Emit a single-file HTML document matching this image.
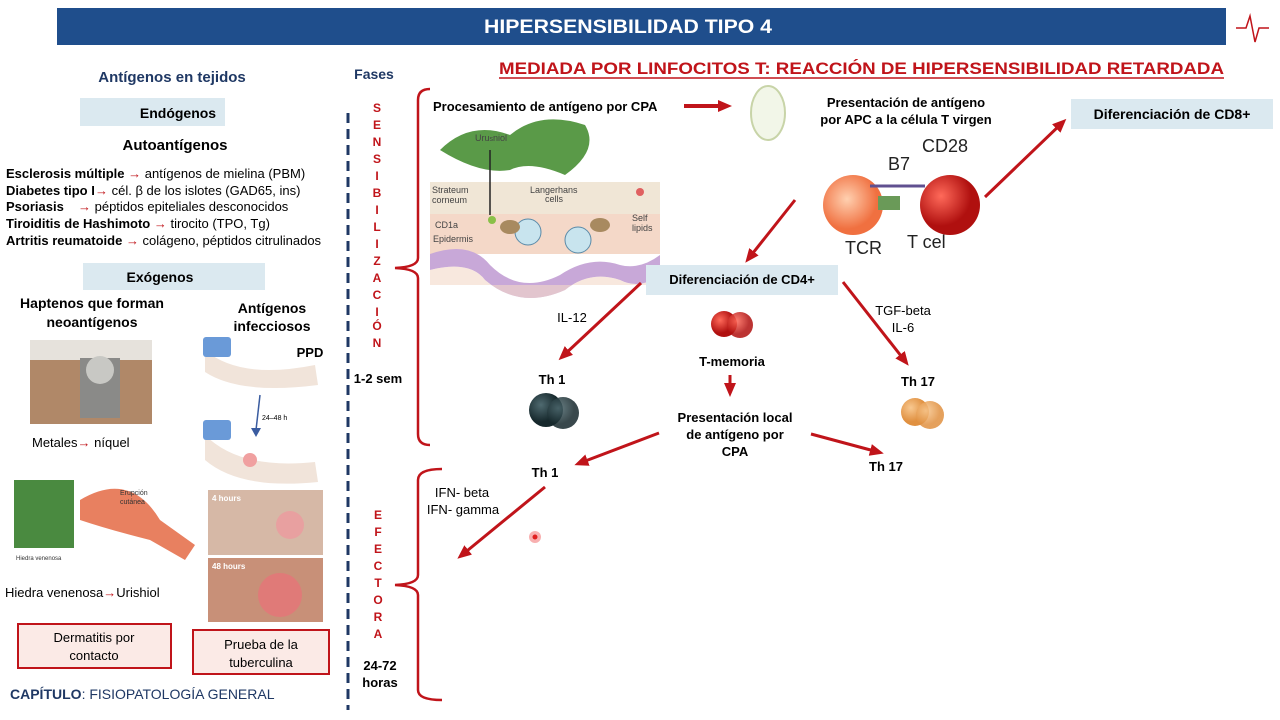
<!DOCTYPE html>
<html><head><meta charset="utf-8"><style>
body{margin:0;width:1280px;height:720px;background:#fff;overflow:hidden;font-family:"Liberation Sans",sans-serif}
svg{position:absolute;left:0;top:0}
</style></head><body>
<svg width="1280" height="720" viewBox="0 0 1280 720" font-family="Liberation Sans, sans-serif">
<defs>
<marker id="a" markerWidth="16" markerHeight="16" refX="8" refY="6" orient="auto" markerUnits="userSpaceOnUse"><path d="M0,0 L14,6 L0,12 Z" fill="#c0141a"/></marker>
<radialGradient id="rc" cx="35%" cy="35%"><stop offset="0" stop-color="#ff6a5a"/><stop offset="1" stop-color="#b0100f"/></radialGradient>
<radialGradient id="dc" cx="35%" cy="35%"><stop offset="0" stop-color="#4f6a70"/><stop offset="1" stop-color="#16282c"/></radialGradient>
<radialGradient id="oc" cx="35%" cy="35%"><stop offset="0" stop-color="#f8c890"/><stop offset="1" stop-color="#e09040"/></radialGradient>
<radialGradient id="pc" cx="40%" cy="40%"><stop offset="0" stop-color="#ffd0b0"/><stop offset="1" stop-color="#f07040"/></radialGradient>
</defs>
<rect x="57" y="8" width="1169" height="37" fill="#1f4e8c"/>
<text x="628" y="33" font-size="19" font-weight="bold" fill="#fff" text-anchor="middle" textLength="288" lengthAdjust="spacingAndGlyphs">HIPERSENSIBILIDAD TIPO 4</text>
<path d="M1236,28 h10 l4,-12 l5,26 l4,-14 h10" stroke="#c0141a" fill="none" stroke-width="1.5"/>
<text x="172" y="82" font-size="15" font-weight="bold" fill="#1f3864" text-anchor="middle">Antígenos en tejidos</text>
<rect x="80" y="98" width="145" height="28" fill="#dbe9f0"/>
<text x="178" y="118" font-size="14" font-weight="bold" text-anchor="middle">Endógenos</text>
<text x="175" y="150" font-size="15" font-weight="bold" text-anchor="middle">Autoantígenos</text>
<g font-size="13">
<text x="6" y="178"><tspan font-weight="bold">Esclerosis múltiple</tspan> <tspan fill="#c0141a" font-weight="bold">→</tspan> antígenos de mielina (PBM)</text>
<text x="6" y="195"><tspan font-weight="bold">Diabetes tipo I</tspan><tspan fill="#c0141a" font-weight="bold" x="95">→</tspan> cél. β de los islotes  (GAD65, ins)</text>
<text x="6" y="211"><tspan font-weight="bold">Psoriasis</tspan><tspan fill="#c0141a" font-weight="bold" x="78">→</tspan> péptidos epiteliales desconocidos</text>
<text x="6" y="228"><tspan font-weight="bold">Tiroiditis de Hashimoto</tspan> <tspan fill="#c0141a" font-weight="bold">→</tspan> tirocito (TPO, Tg)</text>
<text x="6" y="245"><tspan font-weight="bold">Artritis reumatoide</tspan> <tspan fill="#c0141a" font-weight="bold">→</tspan> colágeno, péptidos citrulinados</text>
</g>
<rect x="83" y="263" width="182" height="27" fill="#dbe9f0"/>
<text x="160" y="282" font-size="14" font-weight="bold" text-anchor="middle">Exógenos</text>
<text x="92" y="308" font-size="14" font-weight="bold" text-anchor="middle">Haptenos que forman</text>
<text x="92" y="327" font-size="14" font-weight="bold" text-anchor="middle">neoantígenos</text>
<rect x="30" y="340" width="122" height="84" fill="#b08868"/>
<rect x="30" y="340" width="122" height="20" fill="#e6e2dc"/>
<rect x="80" y="358" width="40" height="60" fill="#8a8a88"/>
<circle cx="100" cy="370" r="14" fill="#c8c8c4"/>
<text x="32" y="447" font-size="13">Metales<tspan fill="#c0141a" font-weight="bold">→</tspan> níquel</text>
<rect x="14" y="480" width="60" height="68" fill="#4a8a40"/>
<path d="M80,500 Q130,470 160,520 L195,545 L185,560 L150,540 Q110,530 80,520Z" fill="#e88060"/>
<text x="120" y="495" font-size="7" fill="#333">Erupción</text>
<text x="120" y="504" font-size="7" fill="#333">cutánea</text>
<text x="16" y="560" font-size="6" fill="#333">Hiedra venenosa</text>
<text x="5" y="597" font-size="13">Hiedra venenosa<tspan fill="#c0141a" font-weight="bold">→</tspan>Urishiol</text>
<rect x="18" y="624" width="153" height="44" fill="#fbeae6" stroke="#c0141a" stroke-width="2"/>
<text x="94" y="642" font-size="13" text-anchor="middle">Dermatitis por</text>
<text x="94" y="660" font-size="13" text-anchor="middle">contacto</text>
<text x="272" y="313" font-size="14" font-weight="bold" text-anchor="middle">Antígenos</text>
<text x="272" y="331" font-size="14" font-weight="bold" text-anchor="middle">infecciosos</text>
<text x="310" y="357" font-size="13" font-weight="bold" text-anchor="middle">PPD</text>
<path d="M205,350 Q240,380 315,365 L318,385 Q240,395 205,372Z" fill="#f1e4da"/>
<rect x="203" y="337" width="28" height="20" fill="#6a9ad8" rx="3"/>
<path d="M205,435 Q240,470 315,462 L318,482 Q240,490 205,460Z" fill="#f1e4da"/>
<rect x="203" y="420" width="28" height="20" fill="#6a9ad8" rx="3"/>
<circle cx="250" cy="460" r="7" fill="#f0a0a0"/>
<line x1="260" y1="395" x2="256" y2="430" stroke="#3a5ca0" stroke-width="1.5"/>
<path d="M251,428 L256,437 L261,428Z" fill="#3a5ca0"/>
<text x="262" y="420" font-size="7">24–48 h</text>
<rect x="208" y="490" width="115" height="65" fill="#d6b8a6"/>
<circle cx="290" cy="525" r="14" fill="#e8a0a0"/>
<text x="212" y="501" font-size="8" fill="#fff" font-weight="bold">4 hours</text>
<rect x="208" y="558" width="115" height="64" fill="#c89078"/>
<circle cx="280" cy="595" r="22" fill="#e07a78"/>
<text x="212" y="569" font-size="8" fill="#fff" font-weight="bold">48 hours</text>
<rect x="193" y="630" width="136" height="44" fill="#fbeae6" stroke="#c0141a" stroke-width="2"/>
<text x="261" y="649" font-size="13" text-anchor="middle">Prueba de la</text>
<text x="261" y="667" font-size="13" text-anchor="middle">tuberculina</text>
<text x="10" y="699" font-size="14" fill="#1f3864"><tspan font-weight="bold">CAPÍTULO</tspan>: FISIOPATOLOGÍA GENERAL</text>
<line x1="348" y1="113" x2="348" y2="710" stroke="#1f3864" stroke-width="3" stroke-dasharray="10,6"/>
<text x="374" y="79" font-size="14" font-weight="bold" fill="#1f3864" text-anchor="middle">Fases</text>
<g font-size="12" font-weight="bold" fill="#c0141a" text-anchor="middle">
<text x="377" y="112">S</text><text x="377" y="129">E</text><text x="377" y="146">N</text><text x="377" y="163">S</text><text x="377" y="180">I</text><text x="377" y="197">B</text><text x="377" y="214">I</text><text x="377" y="231">L</text><text x="377" y="248">I</text><text x="377" y="265">Z</text><text x="377" y="282">A</text><text x="377" y="299">C</text><text x="377" y="316">I</text><text x="377" y="330">Ó</text><text x="377" y="347">N</text>
<text x="378" y="519">E</text><text x="378" y="536">F</text><text x="378" y="553">E</text><text x="378" y="570">C</text><text x="378" y="587">T</text><text x="378" y="604">O</text><text x="378" y="621">R</text><text x="378" y="638">A</text>
</g>
<text x="378" y="383" font-size="13" font-weight="bold" text-anchor="middle">1-2 sem</text>
<text x="380" y="670" font-size="13" font-weight="bold" text-anchor="middle">24-72</text>
<text x="380" y="687" font-size="13" font-weight="bold" text-anchor="middle">horas</text>
<g stroke="#c0141a" stroke-width="2.5" fill="none">
<path d="M430,89 Q418,89 418,100 L418,258 Q418,267 395,268 Q418,269 418,278 L418,434 Q418,445 430,445"/>
<path d="M442,469 Q418,469 418,480 L418,575 Q418,584 395,585 Q418,586 418,595 L418,690 Q418,700 442,700"/>
</g>
<text x="499" y="74" font-size="17" font-weight="bold" fill="#c0141a" textLength="725" lengthAdjust="spacingAndGlyphs">MEDIADA POR LINFOCITOS T: REACCIÓN DE HIPERSENSIBILIDAD RETARDADA</text>
<line x1="499" y1="78" x2="1224" y2="78" stroke="#c0141a" stroke-width="1.5"/>
<text x="433" y="111" font-size="13" font-weight="bold">Procesamiento de antígeno por CPA</text>
<line x1="684" y1="106" x2="726" y2="106" stroke="#c0141a" stroke-width="4" marker-end="url(#a)"/>
<ellipse cx="768" cy="113" rx="17" ry="27" fill="#f2f6e8" stroke="#c8d4a8" stroke-width="2"/>
<text x="906" y="107" font-size="13" font-weight="bold" text-anchor="middle">Presentación de antígeno</text>
<text x="906" y="124" font-size="13" font-weight="bold" text-anchor="middle">por APC a la célula T virgen</text>
<rect x="1071" y="99" width="202" height="30" fill="#dbe9f0"/>
<text x="1172" y="119" font-size="14" font-weight="bold" text-anchor="middle">Diferenciación de CD8+</text>
<path d="M440,150 Q470,120 510,135 Q540,110 585,125 Q600,150 565,175 Q530,160 510,170 Q480,175 440,150Z" fill="#5a9a48"/>
<text x="475" y="141" font-size="9" fill="#444">Uru<tspan font-size="7">s</tspan>niol</text>
<rect x="430" y="182" width="230" height="32" fill="#f0e6d6"/>
<rect x="430" y="214" width="230" height="40" fill="#f4d8c8"/>
<path d="M430,254 Q470,240 490,265 Q520,295 560,275 Q590,255 620,265 Q640,270 660,255 L660,275 Q640,290 620,280 Q590,270 565,290 Q520,310 485,280 Q470,260 430,270Z" fill="#c8a8d8"/>
<path d="M430,270 Q470,260 485,280 Q520,310 565,290 Q590,270 620,280 Q640,290 660,275 L660,285 L430,285Z" fill="#f4d8c8" opacity="0.6"/>
<line x1="490" y1="150" x2="490" y2="215" stroke="#222" stroke-width="1.5"/>
<circle cx="492" cy="220" r="4" fill="#8ac048"/>
<circle cx="528" cy="232" r="13" fill="#c8e4ee" stroke="#5a8aa8"/>
<circle cx="578" cy="240" r="13" fill="#c8e4ee" stroke="#5a8aa8"/>
<ellipse cx="510" cy="227" rx="10" ry="7" fill="#a88a60"/>
<ellipse cx="600" cy="225" rx="10" ry="7" fill="#a88a60"/>
<circle cx="640" cy="192" r="4" fill="#e06060"/>
<g font-size="9" fill="#444">
<text x="432" y="193">Strateum</text><text x="432" y="203">corneum</text>
<text x="530" y="193">Langerhans</text><text x="545" y="202">cells</text>
<text x="435" y="228">CD1a</text><text x="433" y="242">Epidermis</text>
<text x="632" y="221">Self</text><text x="632" y="231">lipids</text>
</g>
<circle cx="853" cy="205" r="30" fill="url(#pc)"/>
<circle cx="950" cy="205" r="30" fill="url(#rc)"/>
<rect x="878" y="196" width="22" height="14" fill="#6a9a58"/>
<line x1="870" y1="186" x2="925" y2="186" stroke="#605090" stroke-width="3"/>
<text x="888" y="170" font-size="18" fill="#222">B7</text>
<text x="922" y="152" font-size="18" fill="#222">CD28</text>
<text x="845" y="254" font-size="18" fill="#222">TCR</text>
<text x="907" y="248" font-size="18" fill="#222">T cel</text>
<g stroke="#c0141a" stroke-width="3" fill="none">
<line x1="985" y1="197" x2="1062" y2="123" marker-end="url(#a)"/>
<line x1="795" y1="200" x2="749" y2="258" marker-end="url(#a)"/>
<line x1="641" y1="283" x2="563" y2="356" marker-end="url(#a)"/>
<line x1="843" y1="282" x2="905" y2="361" marker-end="url(#a)"/>
<line x1="730" y1="375" x2="730" y2="391" marker-end="url(#a)"/>
<line x1="659" y1="433" x2="580" y2="463" marker-end="url(#a)"/>
<line x1="811" y1="434" x2="878" y2="452" marker-end="url(#a)"/>
<line x1="545" y1="487" x2="462" y2="555" marker-end="url(#a)"/>
</g>
<rect x="646" y="265" width="192" height="30" fill="#dbe9f0"/>
<text x="742" y="284" font-size="13" font-weight="bold" text-anchor="middle">Diferenciación de CD4+</text>
<text x="572" y="322" font-size="13" text-anchor="middle">IL-12</text>
<text x="903" y="315" font-size="13" text-anchor="middle">TGF-beta</text>
<text x="903" y="332" font-size="13" text-anchor="middle">IL-6</text>
<circle cx="724" cy="324" r="13" fill="url(#rc)"/><circle cx="740" cy="325" r="13" fill="url(#rc)" opacity="0.85"/>
<text x="732" y="366" font-size="13" font-weight="bold" text-anchor="middle">T-memoria</text>
<text x="552" y="384" font-size="13" font-weight="bold" text-anchor="middle">Th 1</text>
<circle cx="546" cy="410" r="17" fill="url(#dc)"/><circle cx="563" cy="413" r="16" fill="url(#dc)" opacity="0.85"/>
<text x="918" y="386" font-size="13" font-weight="bold" text-anchor="middle">Th 17</text>
<circle cx="915" cy="412" r="14" fill="url(#oc)"/><circle cx="930" cy="415" r="14" fill="url(#oc)" opacity="0.85"/>
<text x="735" y="422" font-size="13" font-weight="bold" text-anchor="middle">Presentación local</text>
<text x="735" y="439" font-size="13" font-weight="bold" text-anchor="middle">de antígeno por</text>
<text x="735" y="456" font-size="13" font-weight="bold" text-anchor="middle">CPA</text>
<text x="545" y="477" font-size="13" font-weight="bold" text-anchor="middle">Th 1</text>
<text x="886" y="471" font-size="13" font-weight="bold" text-anchor="middle">Th 17</text>
<text x="462" y="497" font-size="13" text-anchor="middle">IFN-  beta</text>
<text x="463" y="514" font-size="13" text-anchor="middle">IFN- gamma</text>
<circle cx="535" cy="537" r="6" fill="#f8b0b0"/><circle cx="535" cy="537" r="2.5" fill="#e02020"/>
</svg>
</body></html>
